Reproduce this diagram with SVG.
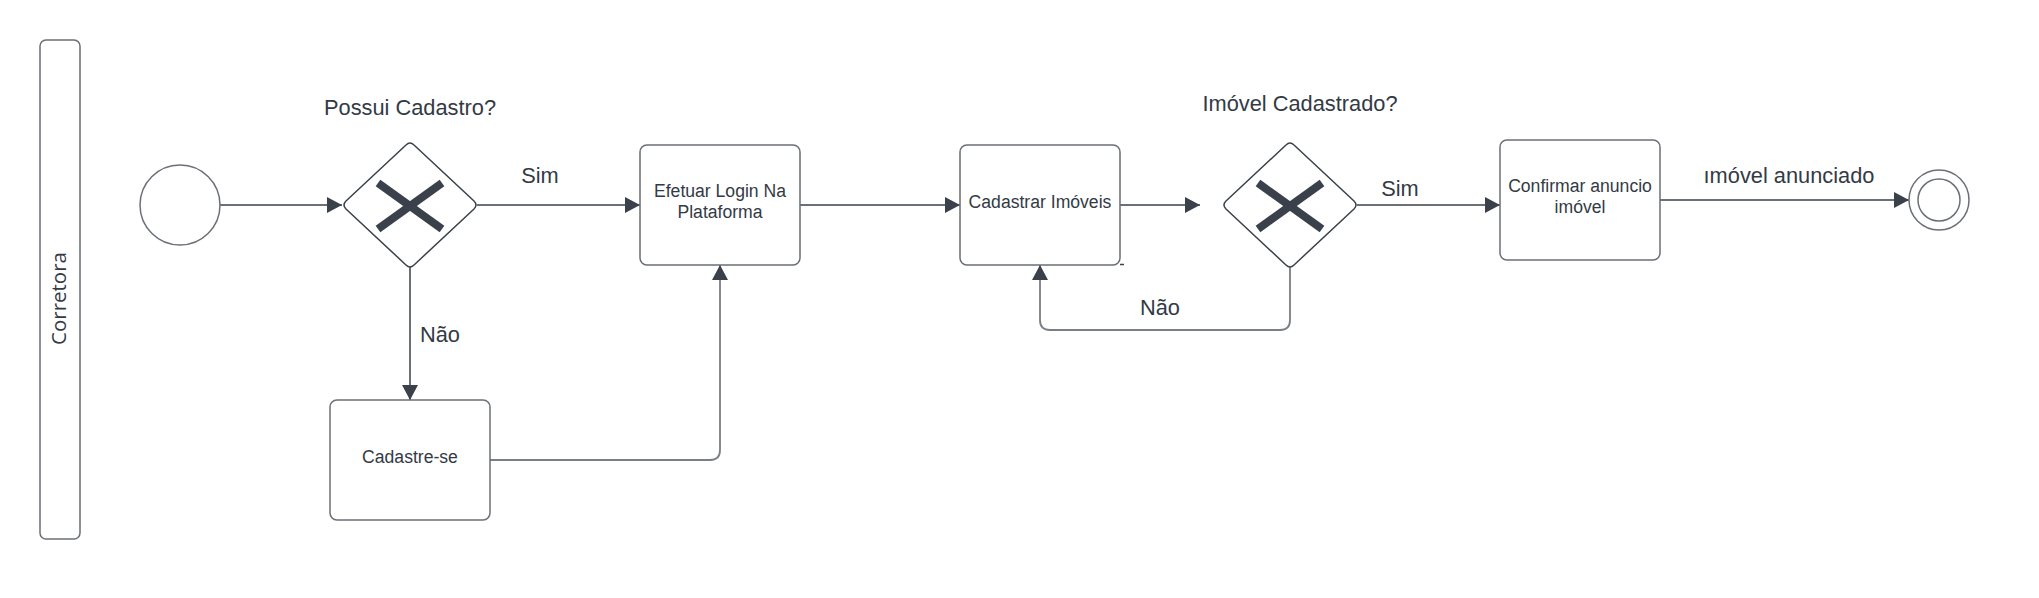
<svg xmlns="http://www.w3.org/2000/svg" width="2039" height="598" viewBox="0 0 2039 598">
  <style>
    .shape { fill: #ffffff; stroke: #6b6f76; stroke-width: 1.5; }
    .gw { fill: #ffffff; stroke: #3a414a; stroke-width: 1.5; stroke-linejoin: round; }
    .xmark { stroke: #3a414a; stroke-width: 8; stroke-linecap: butt; }
    .conn { fill: none; stroke: #3a414a; stroke-width: 1.5; }
    .conn2 { fill: none; stroke: #7a7e85; stroke-width: 1.8; }
    .lbl { font-family: "Liberation Sans", Arial, sans-serif; font-size: 21.8px; fill: #333a45; }
    .txt { font-family: "Liberation Sans", Arial, sans-serif; font-size: 17.6px; fill: #333a45; text-anchor: middle; }
    .lane { font-family: "Open Sans", "Liberation Sans", sans-serif; font-size: 20.5px; fill: #333a45; text-anchor: middle; }
  </style>
  <defs>
    <marker id="arrow" markerUnits="userSpaceOnUse" markerWidth="16" markerHeight="17" refX="15" refY="8" orient="auto">
      <path d="M0,0 L15,8 L0,16 Z" fill="#3a414a"/>
    </marker>
  </defs>
  <rect width="2039" height="598" fill="#ffffff"/>

  <g id="lane">
    <rect class="shape" x="40" y="40" width="40" height="499" rx="6"/>
    <text class="lane" transform="translate(65.5,298.5) rotate(-90)">Corretora</text>
  </g>

  <g id="connectors">
    <path class="conn" d="M220,205 H342" marker-end="url(#arrow)"/>
    <path class="conn" d="M477,205 H640" marker-end="url(#arrow)"/>
    <path class="conn" d="M410,267 V400" marker-end="url(#arrow)"/>
    <path class="conn2" d="M490,460 H710 Q720,460 720,450 V265" marker-end="url(#arrow)"/>
    <path class="conn" d="M800,205 H960" marker-end="url(#arrow)"/>
    <path class="conn" d="M1120,205 H1200" marker-end="url(#arrow)"/>
    <path class="conn" d="M1357,205 H1500" marker-end="url(#arrow)"/>
    <path class="conn2" d="M1290,267 V320 Q1290,330 1280,330 H1050 Q1040,330 1040,320 V265" marker-end="url(#arrow)"/>
    <path class="conn" d="M1660,200 H1909" marker-end="url(#arrow)"/>
    <path class="conn" d="M1120,264.5 H1124"/>
    <text class="lbl" x="540" y="183" text-anchor="middle">Sim</text>
    <text class="lbl" x="420" y="342">Não</text>
    <text class="lbl" x="1400" y="196" text-anchor="middle">Sim</text>
    <text class="lbl" x="1140" y="315">Não</text>
    <text class="lbl" x="1789" y="183" text-anchor="middle">ımóvel anunciado</text>
  </g>

  <g id="start">
    <circle class="shape" cx="180" cy="205" r="40"/>
  </g>

  <g id="gateway1">
    <path class="gw" d="M406,145 Q410,141 414,145 L474,201 Q478,205 474,209 L414,265 Q410,269 406,265 L346,209 Q342,205 346,201 Z"/>
    <line class="xmark" x1="378" y1="183" x2="442" y2="229"/>
    <line class="xmark" x1="442" y1="183" x2="378" y2="229"/>
    <text class="lbl" x="410" y="115" text-anchor="middle">Possui Cadastro?</text>
  </g>

  <g id="efetuar">
    <rect class="shape" x="640" y="145" width="160" height="120" rx="7"/>
    <text class="txt" x="720" y="197">Efetuar Login Na</text>
    <text class="txt" x="720" y="218">Plataforma</text>
  </g>

  <g id="cadastrese">
    <rect class="shape" x="330" y="400" width="160" height="120" rx="7"/>
    <text class="txt" x="410" y="463">Cadastre-se</text>
  </g>

  <g id="cadastrar">
    <rect class="shape" x="960" y="145" width="160" height="120" rx="7"/>
    <text class="txt" x="1040" y="208">Cadastrar Imóveis</text>
  </g>

  <g id="gateway2">
    <path class="gw" d="M1286,145 Q1290,141 1294,145 L1354,201 Q1358,205 1354,209 L1294,265 Q1290,269 1286,265 L1226,209 Q1222,205 1226,201 Z"/>
    <line class="xmark" x1="1258" y1="183" x2="1322" y2="229"/>
    <line class="xmark" x1="1322" y1="183" x2="1258" y2="229"/>
    <text class="lbl" x="1300" y="111" text-anchor="middle">Imóvel Cadastrado?</text>
  </g>

  <g id="confirmar">
    <rect class="shape" x="1500" y="140" width="160" height="120" rx="7"/>
    <text class="txt" x="1580" y="192">Confirmar anuncio</text>
    <text class="txt" x="1580" y="213">imóvel</text>
  </g>

  <g id="end">
    <circle class="shape" cx="1939" cy="200" r="30"/>
    <circle class="shape" cx="1939" cy="200" r="21"/>
  </g>
</svg>
